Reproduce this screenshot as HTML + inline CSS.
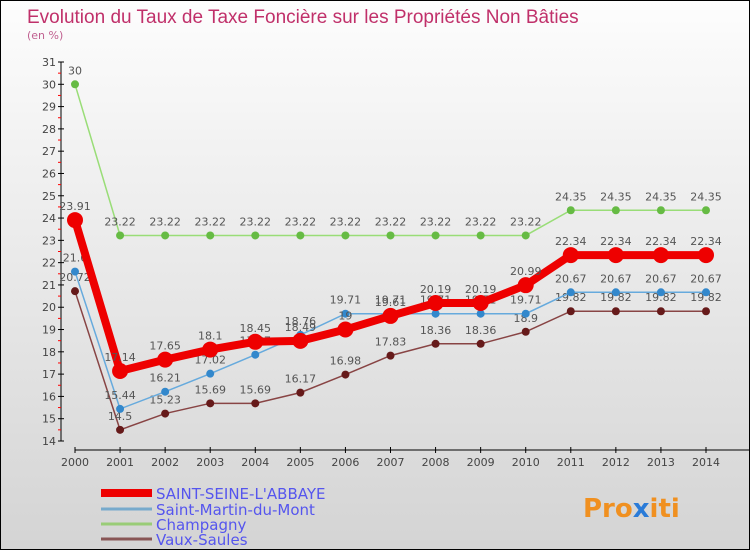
<!DOCTYPE html>
<html><head><meta charset="utf-8"><style>
body{margin:0}
#wrap{width:748px;height:548px;border:1px solid #000;background:linear-gradient(#fdfdfd,#d4d4d4);position:relative;overflow:hidden;font-family:"DejaVu Sans","Liberation Sans",sans-serif}
</style></head><body>
<div id="wrap">
<svg id="svg" width="748" height="548">
<text x="26" y="22" font-size="19" fill="#c0306a" font-family="Liberation Sans, sans-serif">Evolution du Taux de Taxe Foncière sur les Propriétés Non Bâties</text>
<text x="26" y="38" font-size="11" fill="#c06090">(en %)</text>
<g id="axes"></g><g id="series"></g>
<g id="legend" font-size="15" fill="#5555ee"></g>
<text x="582" y="516" font-size="26" font-weight="bold" fill="#f09020">Pro<tspan fill="#2a7bd8">x</tspan>iti</text>
</svg></div>
<script>
const years=[2000,2001,2002,2003,2004,2005,2006,2007,2008,2009,2010,2011,2012,2013,2014];
const yTicks=[14,15,16,17,18,19,20,21,22,23,24,25,26,27,28,29,30,31];
const names=["SAINT-SEINE-L'ABBAYE","Saint-Martin-du-Mont","Champagny","Vaux-Saules"];
const saintSeine=[23.91,17.14,17.65,18.1,18.45,18.49,19,19.61,20.19,20.19,20.99,22.34,22.34,22.34,22.34];
const saintMartin=[21.6,15.44,16.21,17.02,17.87,18.76,19.71,19.71,19.71,19.71,19.71,20.67,20.67,20.67,20.67];
const champagny=[30,23.22,23.22,23.22,23.22,23.22,23.22,23.22,23.22,23.22,23.22,24.35,24.35,24.35,24.35];
const vauxSaules=[20.72,14.5,15.23,15.69,15.69,16.17,16.98,17.83,18.36,18.36,18.9,19.82,19.82,19.82,19.82];
const NS="http://www.w3.org/2000/svg";
const X=i=>74+i*(631/14);
const Y=v=>440-(v-14)*(379/17);
function mk(t,a,p){const e=document.createElementNS(NS,t);for(const k in a)e.setAttribute(k,a[k]);p.appendChild(e);return e;}
const ax=document.getElementById('axes');
let l=mk('line',{x1:60,y1:Y(31),x2:60,y2:Y(14),stroke:'#000'},ax);


l=mk('line',{x1:74,y1:449,x2:748,y2:449,stroke:'#000'},ax);


yTicks.forEach(v=>{
 mk('line',{x1:57,y1:Y(v),x2:63,y2:Y(v),stroke:'#000'},ax);
 if(v<31)mk('line',{x1:57,y1:Y(v+0.5),x2:60,y2:Y(v+0.5),stroke:'#f00'},ax);
 const t=mk('text',{x:55,y:Y(v)+4,'font-size':11,'text-anchor':'end',fill:'#444'},ax);t.textContent=v;
 
 
});
years.forEach((y,i)=>{
 mk('line',{x1:X(i),y1:446,x2:X(i),y2:452,stroke:'#000'},ax);
 const t=mk('text',{x:X(i),y:465,'font-size':11,'text-anchor':'middle',fill:'#444'},ax);t.textContent=y;
 
 
});
const sg=document.getElementById('series');
const defs=[[champagny,'#99dd77','#66bb44',1.5,4],[vauxSaules,'#884444','#661a1a',1.5,4],[saintMartin,'#66aadd','#3388cc',1.5,4],[saintSeine,'#ee0000','#ee0000',8,8]];
const keys=['champagny','vaux-saules','saint-martin-du-mont','saint-seine-l-abbaye'];
defs.forEach((d,k)=>{
 const g=mk('g',{},sg);
 
 
 const pl=mk('polyline',{points:d[0].map((v,i)=>X(i)+','+Y(v)).join(' '),fill:'none',stroke:d[1],'stroke-width':d[3]},g);
 
 
 d[0].forEach((v,i)=>{
  const c=mk('circle',{cx:X(i),cy:Y(v),r:d[4],fill:d[2]},g);
  
  
  const t=mk('text',{x:X(i),y:Y(v)-10,'font-size':11,'text-anchor':'middle',fill:'#555'},g);t.textContent=v;
  
  
 });
});
const lg=document.getElementById('legend');
const lc=['#ee0000','#77aacc','#99cc77','#885555'],lw=[8,3,3,3],ly=[492,508,523,538];
names.forEach((n,i)=>{
 const a=mk('line',{x1:100,y1:ly[i],x2:151,y2:ly[i],stroke:lc[i],'stroke-width':lw[i]},lg);
 
 
 const t=mk('text',{x:155,y:ly[i]+6},lg);t.textContent=n;
 
 
});
</script></body></html>
